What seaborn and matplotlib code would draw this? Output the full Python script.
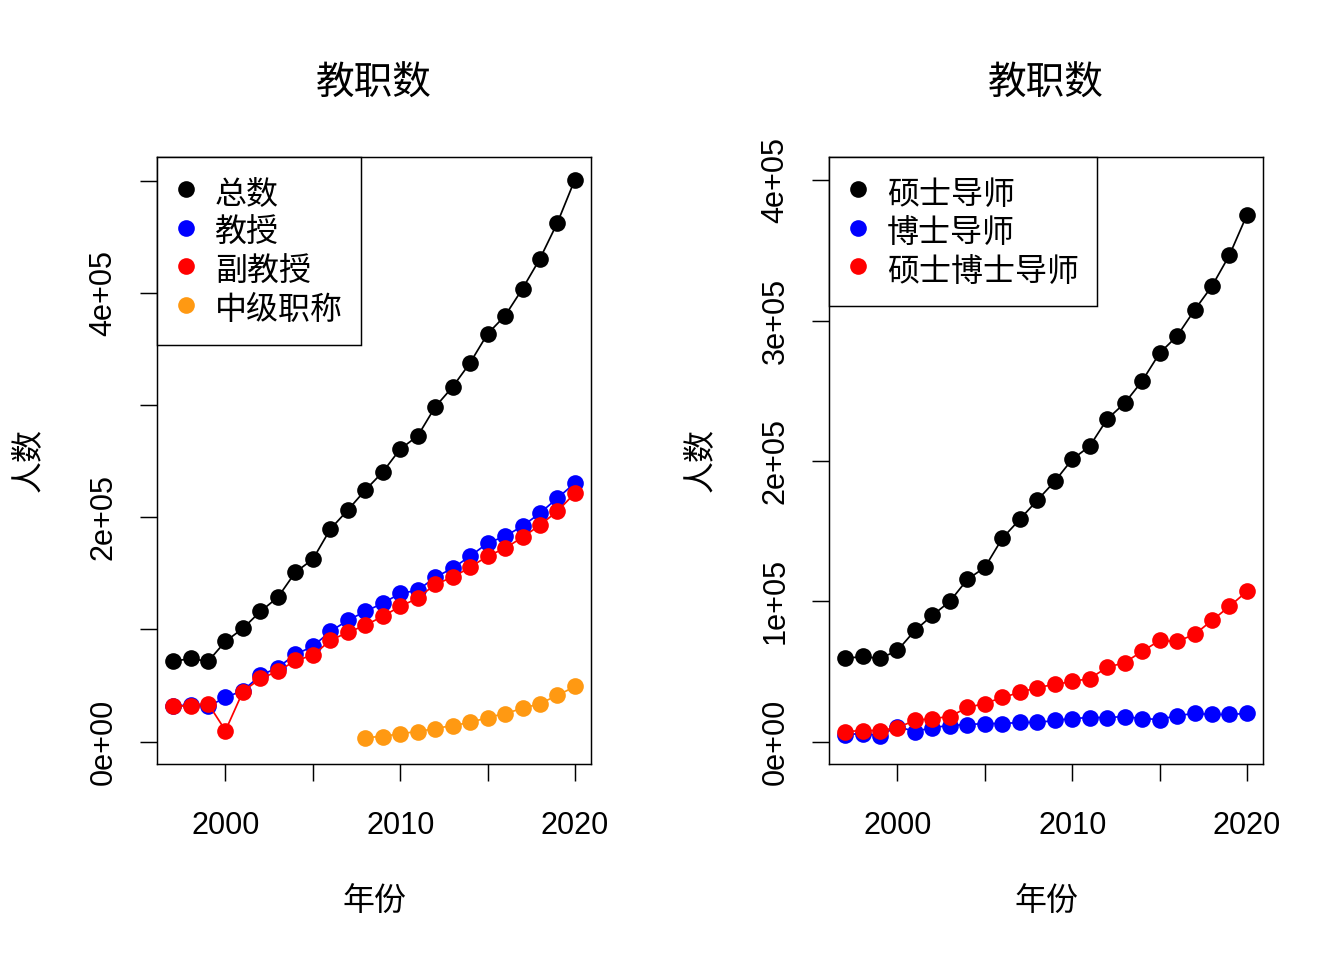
import numpy as np
import pandas as pd
import matplotlib
matplotlib.use("Agg")
import matplotlib.pyplot as plt
from matplotlib.lines import Line2D
import seaborn as sns

# ---------------- data ----------------
years = list(range(1997, 2021))

# left panel (教职数)
total = [71.4, 74.1, 71.4, 89.3, 100.9, 116.0, 128.6, 150.9, 162.5, 189.3, 206.3, 224.1,
         240.2, 260.7, 272.3, 298.2, 316.1, 337.5, 363.4, 379.5, 403.6, 430.4, 462.5, 500.9]
professor = [31.3, 33.0, 31.3, 39.3, 45.5, 58.9, 66.0, 77.7, 84.8, 98.2, 108.0, 116.0,
             123.2, 132.1, 134.8, 146.4, 154.5, 165.2, 176.8, 183.0, 192.0, 203.6, 217.0, 230.4]
assoc_prof = [31.3, 32.1, 33.9, 9.8, 44.6, 56.3, 62.5, 72.3, 76.8, 90.2, 97.3, 103.6,
              111.6, 120.5, 127.7, 140.2, 146.4, 155.4, 165.2, 172.3, 182.1, 192.9, 205.4, 221.4]
mid_years = list(range(2008, 2021))
mid_level = [3.6, 4.5, 7.1, 8.9, 11.6, 14.3, 17.0, 21.4, 25.0, 29.5, 33.9, 41.1, 49.1]

# right panel (导师)
master_sup = [59.2, 60.6, 59.2, 64.9, 79.2, 89.9, 99.9, 115.5, 124.1, 144.8, 158.3, 171.9,
              185.4, 201.1, 210.4, 229.7, 241.1, 256.8, 276.7, 288.9, 307.4, 324.5, 346.6, 375.2]
doctor_sup = [5.0, 5.7, 4.3, 10.7, 7.1, 10.0, 11.4, 12.1, 12.8, 12.8, 13.6, 13.6,
              15.0, 16.4, 17.1, 17.1, 17.8, 16.4, 15.7, 18.5, 20.0, 19.3, 19.3, 20.0]
both_sup = [7.1, 7.8, 7.8, 10.0, 15.0, 16.4, 17.8, 24.3, 27.1, 31.4, 35.0, 38.5,
            40.7, 42.8, 44.9, 52.8, 56.3, 64.2, 72.0, 71.3, 76.3, 86.3, 96.3, 107.0]

left_labels = ["总数", "教授", "副教授", "中级职称"]
right_labels = ["硕士导师", "博士导师", "硕士博士导师"]
left_colors = ["black", "blue", "red", "#FF9912"]
right_colors = ["black", "blue", "red"]

title_text = "教职数"
xlabel_text = "年份"
ylabel_text = "人数"

xticks = [2000, 2005, 2010, 2015, 2020]
xtick_labels = ["2000", "", "2010", "", "2020"]
left_yticks = [0, 100000, 200000, 300000, 400000, 500000]
left_ytick_labels = ["0e+00", "", "2e+05", "", "4e+05", ""]
right_yticks = [0, 100000, 200000, 300000, 400000]
right_ytick_labels = ["0e+00", "1e+05", "2e+05", "3e+05", "4e+05"]

# ---------------- style ----------------
sns.set_style("white")
plt.rcParams['font.family'] = ['Liberation Sans', 'Noto Sans CJK SC', 'DejaVu Sans']
plt.rcParams['axes.unicode_minus'] = False
for k in ["text.color", "axes.labelcolor", "xtick.color", "ytick.color", "axes.edgecolor"]:
    plt.rcParams[k] = "black"

FS = 23       # latin tick labels
FS_CJK = 24   # chinese labels / legend
fig = plt.figure(figsize=(14, 10), dpi=96)
ax1 = fig.add_axes([157 / 1344, 1 - 764 / 960, 434 / 1344, 607 / 960])
ax2 = fig.add_axes([829 / 1344, 1 - 764 / 960, 434 / 1344, 607 / 960])


def draw(ax, xs_list, ys_list, colors):
    for xs, ys, c in zip(xs_list, ys_list, colors):
        df = pd.DataFrame({"year": xs, "value": np.array(ys) * 1000})
        sns.lineplot(data=df, x="year", y="value", ax=ax, color=c, linewidth=1.3,
                     marker="o", markersize=12.5, markeredgewidth=0, legend=False)


draw(ax1, [years, years, years, mid_years], [total, professor, assoc_prof, mid_level], left_colors)
draw(ax2, [years, years, years], [master_sup, doctor_sup, both_sup], right_colors)


def style(ax, yticks, yticklabels, ylim, labels, colors):
    ax.set_xlim(1996.08, 2020.92)
    ax.set_ylim(*ylim)
    ax.set_xticks(xticks)
    ax.set_xticklabels(xtick_labels, fontsize=FS, color="black")
    ax.set_yticks(yticks)
    ax.set_yticklabels(yticklabels, fontsize=FS, rotation=90, va="center", color="black")
    ax.tick_params(axis="both", direction="out", length=13, width=1.1, color="black",
                   left=True, bottom=True)
    ax.tick_params(axis="x", pad=22)
    ax.tick_params(axis="y", pad=16)
    for s in ax.spines.values():
        s.set_visible(True)
        s.set_color("black")
        s.set_linewidth(1.1)
    ax.grid(False)
    ax.set_title(title_text, fontsize=29, pad=47, color="black")
    ax.set_xlabel(xlabel_text, fontsize=FS_CJK, labelpad=35, color="black")
    ax.set_ylabel(ylabel_text, fontsize=FS_CJK, labelpad=33, color="black")
    handles = [Line2D([], [], linestyle="none", marker="o", markersize=12.5,
                      markeredgewidth=0, color=c) for c in colors]
    leg = ax.legend(handles, labels, loc="upper left", bbox_to_anchor=(0, 1),
                    borderaxespad=0, fontsize=FS_CJK, frameon=True, fancybox=False,
                    handlelength=0.71, handleheight=1.4, handletextpad=0.55,
                    labelspacing=0.05, borderpad=0.55, framealpha=1)
    leg.get_frame().set_edgecolor("black")
    leg.get_frame().set_linewidth(1.1)
    for t in leg.get_texts():
        t.set_color("black")


style(ax1, left_yticks, left_ytick_labels, (-20000, 521000), left_labels, left_colors)
style(ax2, right_yticks, right_ytick_labels, (-16000, 416500), right_labels, right_colors)

fig.savefig("out.png", dpi=96, facecolor="white")
